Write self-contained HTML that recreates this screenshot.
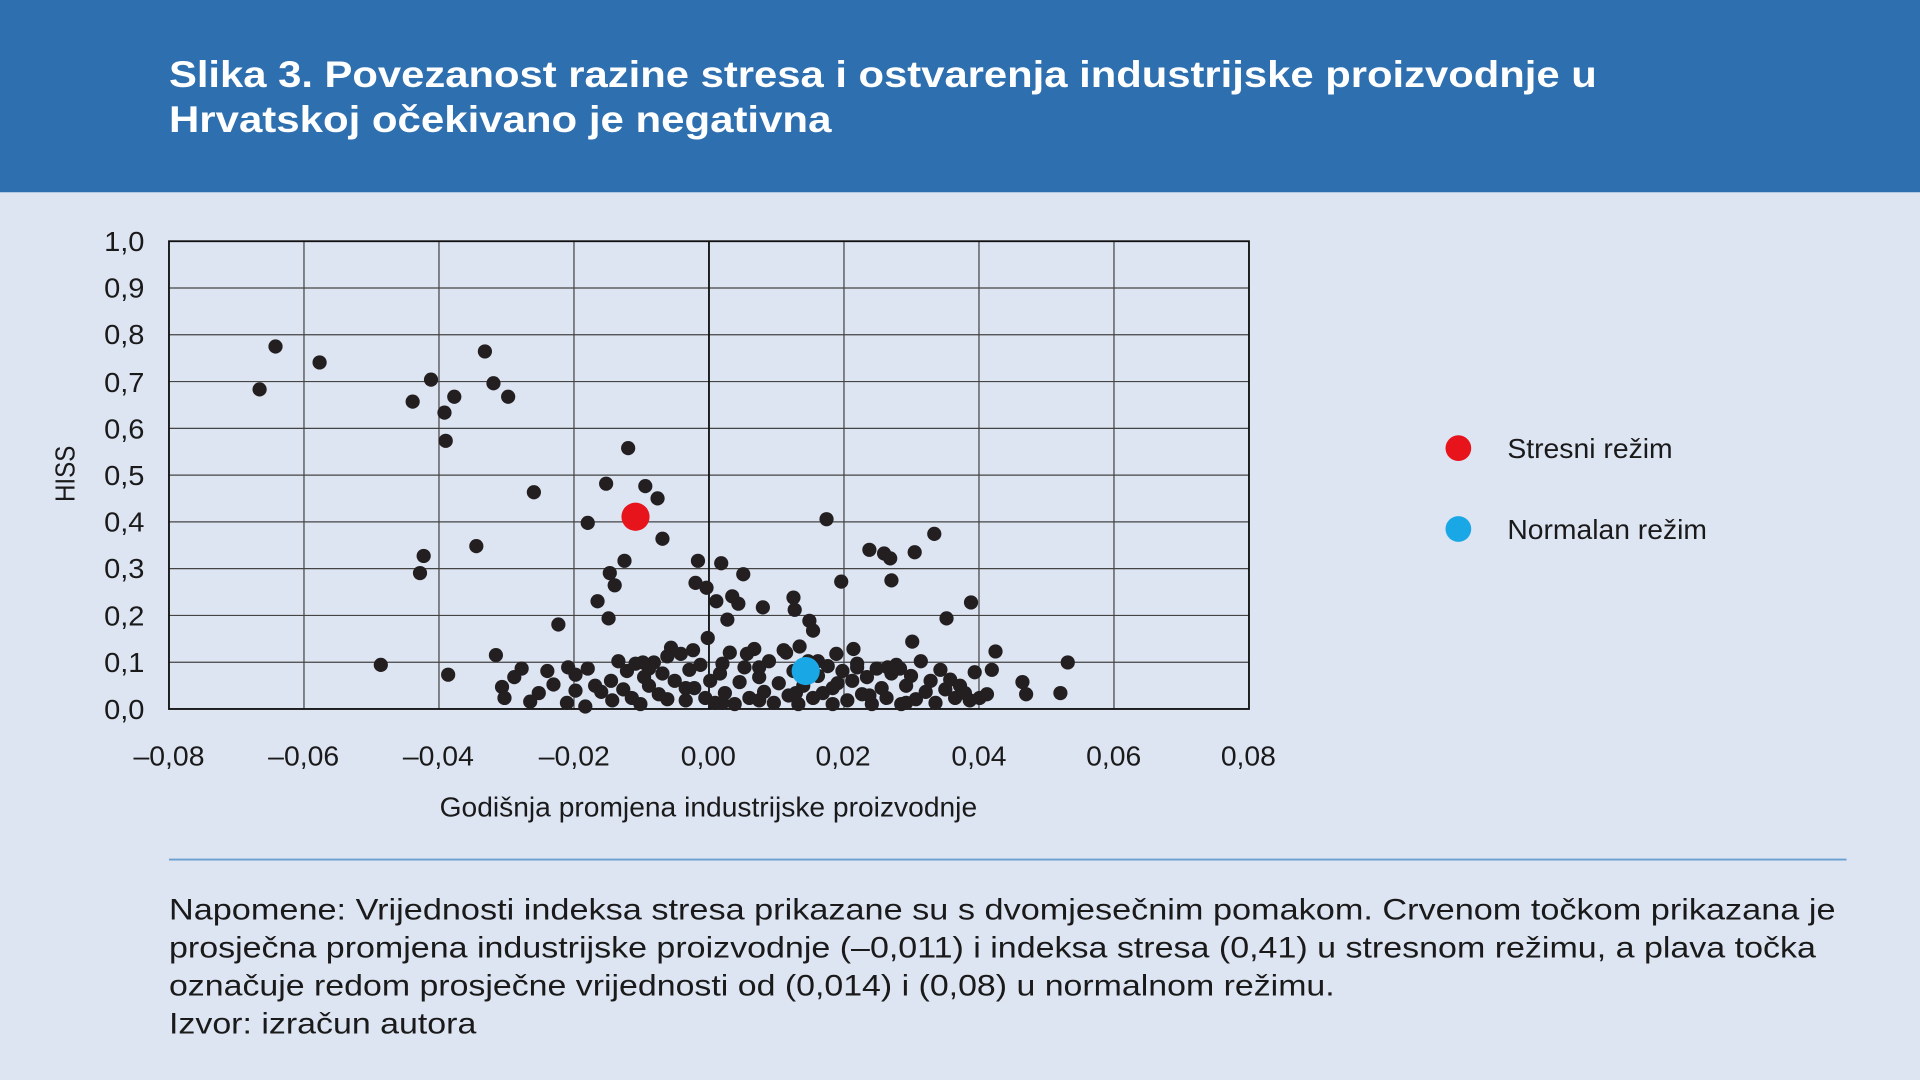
<!DOCTYPE html>
<html><head><meta charset="utf-8"><style>
html,body{margin:0;padding:0;background:#dde4f2;}
svg{display:block;}
.n{font-family:"Liberation Sans",sans-serif;font-size:23px;fill:#1a1a1a;}
.t{font-family:"Liberation Sans",sans-serif;font-weight:bold;font-size:30px;fill:#fff;}
.p{font-family:"Liberation Sans",sans-serif;font-size:24px;fill:#1a1a1a;}
</style></head><body>
<svg width="1920" height="1080" viewBox="0 0 1568 882" xmlns="http://www.w3.org/2000/svg">
<rect width="1568" height="882" fill="#dde4f2"/>
<rect width="1568" height="157" fill="#2e6fb0"/>
<text class="t" x="138" y="71" textLength="1166" lengthAdjust="spacingAndGlyphs">Slika 3. Povezanost razine stresa i ostvarenja industrijske proizvodnje u</text>
<text class="t" x="138" y="108" textLength="541" lengthAdjust="spacingAndGlyphs">Hrvatskoj očekivano je negativna</text>
<g stroke="#444" stroke-width="1">
<line x1="138" y1="235.2" x2="1020" y2="235.2"/><line x1="138" y1="273.4" x2="1020" y2="273.4"/>
<line x1="138" y1="311.6" x2="1020" y2="311.6"/><line x1="138" y1="349.8" x2="1020" y2="349.8"/>
<line x1="138" y1="388" x2="1020" y2="388"/><line x1="138" y1="426.2" x2="1020" y2="426.2"/>
<line x1="138" y1="464.4" x2="1020" y2="464.4"/><line x1="138" y1="502.6" x2="1020" y2="502.6"/>
<line x1="138" y1="540.8" x2="1020" y2="540.8"/>
<line x1="248.25" y1="197" x2="248.25" y2="579"/><line x1="358.5" y1="197" x2="358.5" y2="579"/>
<line x1="468.75" y1="197" x2="468.75" y2="579"/><line x1="689.25" y1="197" x2="689.25" y2="579"/>
<line x1="799.5" y1="197" x2="799.5" y2="579"/><line x1="909.75" y1="197" x2="909.75" y2="579"/>
</g>
<line x1="579" y1="197" x2="579" y2="579" stroke="#111" stroke-width="1.5"/>
<rect x="138" y="197" width="882" height="382" fill="none" stroke="#111" stroke-width="1.5"/>
<g class="n" text-anchor="end">
<text x="118" y="205" textLength="33" lengthAdjust="spacingAndGlyphs">1,0</text><text x="118" y="243" textLength="33" lengthAdjust="spacingAndGlyphs">0,9</text><text x="118" y="281" textLength="33" lengthAdjust="spacingAndGlyphs">0,8</text>
<text x="118" y="320" textLength="33" lengthAdjust="spacingAndGlyphs">0,7</text><text x="118" y="358" textLength="33" lengthAdjust="spacingAndGlyphs">0,6</text><text x="118" y="396" textLength="33" lengthAdjust="spacingAndGlyphs">0,5</text>
<text x="118" y="434" textLength="33" lengthAdjust="spacingAndGlyphs">0,4</text><text x="118" y="472" textLength="33" lengthAdjust="spacingAndGlyphs">0,3</text><text x="118" y="511" textLength="33" lengthAdjust="spacingAndGlyphs">0,2</text>
<text x="118" y="549" textLength="33" lengthAdjust="spacingAndGlyphs">0,1</text><text x="118" y="587" textLength="33" lengthAdjust="spacingAndGlyphs">0,0</text>
</g>
<g class="n">
<text x="109" y="625" textLength="58" lengthAdjust="spacingAndGlyphs">–0,08</text><text x="219" y="625" textLength="58" lengthAdjust="spacingAndGlyphs">–0,06</text><text x="329" y="625" textLength="58" lengthAdjust="spacingAndGlyphs">–0,04</text>
<text x="440" y="625" textLength="58" lengthAdjust="spacingAndGlyphs">–0,02</text><text x="556" y="625" textLength="45" lengthAdjust="spacingAndGlyphs">0,00</text><text x="666" y="625" textLength="45" lengthAdjust="spacingAndGlyphs">0,02</text>
<text x="777" y="625" textLength="45" lengthAdjust="spacingAndGlyphs">0,04</text><text x="887" y="625" textLength="45" lengthAdjust="spacingAndGlyphs">0,06</text><text x="997" y="625" textLength="45" lengthAdjust="spacingAndGlyphs">0,08</text>
<text x="359" y="667" textLength="439" lengthAdjust="spacingAndGlyphs">Godišnja promjena industrijske proizvodnje</text>
<text transform="translate(61,410) rotate(-90)" textLength="46" lengthAdjust="spacingAndGlyphs">HISS</text>
</g>
<g fill="#231f20">
<circle cx="225" cy="283" r="5.8"/><circle cx="212" cy="318" r="5.8"/><circle cx="261" cy="296" r="5.8"/><circle cx="396" cy="287" r="5.8"/><circle cx="352" cy="310" r="5.8"/><circle cx="337" cy="328" r="5.8"/><circle cx="403" cy="313" r="5.8"/><circle cx="371" cy="324" r="5.8"/><circle cx="415" cy="324" r="5.8"/><circle cx="363" cy="337" r="5.8"/><circle cx="364" cy="360" r="5.8"/><circle cx="513" cy="366" r="5.8"/><circle cx="495" cy="395" r="5.8"/><circle cx="527" cy="397" r="5.8"/><circle cx="537" cy="407" r="5.8"/><circle cx="436" cy="402" r="5.8"/><circle cx="480" cy="427" r="5.8"/><circle cx="675" cy="424" r="5.8"/><circle cx="541" cy="440" r="5.8"/><circle cx="389" cy="446" r="5.8"/><circle cx="346" cy="454" r="5.8"/><circle cx="343" cy="468" r="5.8"/><circle cx="570" cy="458" r="5.8"/><circle cx="589" cy="460" r="5.8"/><circle cx="510" cy="458" r="5.8"/><circle cx="607" cy="469" r="5.8"/><circle cx="498" cy="468" r="5.8"/><circle cx="502" cy="478" r="5.8"/><circle cx="710" cy="449" r="5.8"/><circle cx="722" cy="452" r="5.8"/><circle cx="727" cy="456" r="5.8"/><circle cx="747" cy="451" r="5.8"/><circle cx="763" cy="436" r="5.8"/><circle cx="728" cy="474" r="5.8"/><circle cx="687" cy="475" r="5.8"/><circle cx="568" cy="476" r="5.8"/><circle cx="577" cy="480" r="5.8"/><circle cx="598" cy="487" r="5.8"/><circle cx="585" cy="491" r="5.8"/><circle cx="603" cy="493" r="5.8"/><circle cx="623" cy="496" r="5.8"/><circle cx="648" cy="488" r="5.8"/><circle cx="649" cy="498" r="5.8"/><circle cx="793" cy="492" r="5.8"/><circle cx="488" cy="491" r="5.8"/><circle cx="497" cy="505" r="5.8"/><circle cx="456" cy="510" r="5.8"/><circle cx="661" cy="507" r="5.8"/><circle cx="664" cy="515" r="5.8"/><circle cx="773" cy="505" r="5.8"/><circle cx="594" cy="506" r="5.8"/><circle cx="578" cy="521" r="5.8"/><circle cx="566" cy="531" r="5.8"/><circle cx="745" cy="524" r="5.8"/><circle cx="653" cy="528" r="5.8"/><circle cx="683" cy="534" r="5.8"/><circle cx="697" cy="530" r="5.8"/><circle cx="813" cy="532" r="5.8"/><circle cx="405" cy="535" r="5.8"/><circle cx="311" cy="543" r="5.8"/><circle cx="366" cy="551" r="5.8"/><circle cx="872" cy="541" r="5.8"/><circle cx="835" cy="557" r="5.8"/><circle cx="838" cy="567" r="5.8"/><circle cx="866" cy="566" r="5.8"/>
<circle cx="410" cy="561" r="5.8"/><circle cx="412" cy="570" r="5.8"/><circle cx="420" cy="553" r="5.8"/><circle cx="426" cy="546" r="5.8"/><circle cx="433" cy="573" r="5.8"/><circle cx="440" cy="566" r="5.8"/><circle cx="447" cy="548" r="5.8"/><circle cx="452" cy="559" r="5.8"/><circle cx="464" cy="545" r="5.8"/><circle cx="463" cy="574" r="5.8"/><circle cx="470" cy="551" r="5.8"/><circle cx="478" cy="577" r="5.8"/><circle cx="480" cy="546" r="5.8"/><circle cx="486" cy="560" r="5.8"/><circle cx="491" cy="565" r="5.8"/><circle cx="499" cy="556" r="5.8"/><circle cx="505" cy="540" r="5.8"/><circle cx="509" cy="563" r="5.8"/><circle cx="512" cy="548" r="5.8"/><circle cx="516" cy="570" r="5.8"/><circle cx="519" cy="542" r="5.8"/><circle cx="523" cy="575" r="5.8"/><circle cx="526" cy="553" r="5.8"/><circle cx="530" cy="560" r="5.8"/><circle cx="534" cy="541" r="5.8"/><circle cx="538" cy="567" r="5.8"/><circle cx="541" cy="550" r="5.8"/><circle cx="545" cy="571" r="5.8"/><circle cx="548" cy="529" r="5.8"/><circle cx="551" cy="556" r="5.8"/><circle cx="556" cy="534" r="5.8"/><circle cx="560" cy="572" r="5.8"/><circle cx="563" cy="547" r="5.8"/><circle cx="567" cy="562" r="5.8"/><circle cx="572" cy="543" r="5.8"/><circle cx="576" cy="570" r="5.8"/><circle cx="580" cy="556" r="5.8"/><circle cx="584" cy="574" r="5.8"/><circle cx="588" cy="550" r="5.8"/><circle cx="592" cy="566" r="5.8"/><circle cx="596" cy="533" r="5.8"/><circle cx="600" cy="575" r="5.8"/><circle cx="604" cy="557" r="5.8"/><circle cx="608" cy="545" r="5.8"/><circle cx="612" cy="570" r="5.8"/><circle cx="616" cy="530" r="5.8"/><circle cx="620" cy="553" r="5.8"/><circle cx="624" cy="565" r="5.8"/><circle cx="628" cy="540" r="5.8"/><circle cx="632" cy="574" r="5.8"/><circle cx="636" cy="558" r="5.8"/><circle cx="640" cy="531" r="5.8"/><circle cx="644" cy="568" r="5.8"/><circle cx="648" cy="548" r="5.8"/><circle cx="652" cy="575" r="5.8"/><circle cx="656" cy="560" r="5.8"/><circle cx="660" cy="540" r="5.8"/><circle cx="664" cy="570" r="5.8"/><circle cx="668" cy="552" r="5.8"/><circle cx="672" cy="566" r="5.8"/><circle cx="676" cy="544" r="5.8"/><circle cx="680" cy="575" r="5.8"/><circle cx="684" cy="558" r="5.8"/><circle cx="688" cy="548" r="5.8"/><circle cx="692" cy="572" r="5.8"/><circle cx="696" cy="556" r="5.8"/><circle cx="700" cy="542" r="5.8"/><circle cx="704" cy="567" r="5.8"/><circle cx="708" cy="553" r="5.8"/><circle cx="712" cy="575" r="5.8"/><circle cx="716" cy="546" r="5.8"/><circle cx="720" cy="562" r="5.8"/><circle cx="724" cy="570" r="5.8"/><circle cx="728" cy="550" r="5.8"/><circle cx="732" cy="543" r="5.8"/><circle cx="736" cy="575" r="5.8"/><circle cx="740" cy="560" r="5.8"/><circle cx="744" cy="552" r="5.8"/><circle cx="748" cy="571" r="5.8"/><circle cx="752" cy="540" r="5.8"/><circle cx="756" cy="565" r="5.8"/><circle cx="760" cy="556" r="5.8"/><circle cx="764" cy="574" r="5.8"/><circle cx="768" cy="547" r="5.8"/><circle cx="772" cy="563" r="5.8"/><circle cx="776" cy="555" r="5.8"/><circle cx="780" cy="570" r="5.8"/><circle cx="784" cy="560" r="5.8"/><circle cx="788" cy="566" r="5.8"/><circle cx="792" cy="572" r="5.8"/><circle cx="796" cy="549" r="5.8"/><circle cx="800" cy="570" r="5.8"/><circle cx="806" cy="567" r="5.8"/><circle cx="810" cy="547" r="5.8"/><circle cx="470" cy="564" r="5.8"/><circle cx="500" cy="572" r="5.8"/><circle cx="530" cy="546" r="5.8"/><circle cx="560" cy="562" r="5.8"/><circle cx="590" cy="574" r="5.8"/><circle cx="620" cy="572" r="5.8"/><circle cx="650" cy="566" r="5.8"/><circle cx="680" cy="562" r="5.8"/><circle cx="710" cy="568" r="5.8"/><circle cx="740" cy="574" r="5.8"/><circle cx="620" cy="545" r="5.8"/><circle cx="642" cy="533" r="5.8"/><circle cx="668" cy="540" r="5.8"/><circle cx="700" cy="545" r="5.8"/><circle cx="725" cy="545" r="5.8"/><circle cx="735" cy="546" r="5.8"/><circle cx="525" cy="541" r="5.8"/><circle cx="545" cy="536" r="5.8"/><circle cx="590" cy="542" r="5.8"/><circle cx="610" cy="534" r="5.8"/>
</g>
<circle cx="519" cy="422" r="11.5" fill="#e8141c"/>
<circle cx="658" cy="548" r="11.5" fill="#1aa7e6"/>
<circle cx="1191" cy="366" r="10.5" fill="#e8141c"/>
<circle cx="1191" cy="432" r="10.5" fill="#1aa7e6"/>
<text class="n" x="1231" y="374" textLength="135" lengthAdjust="spacingAndGlyphs">Stresni režim</text>
<text class="n" x="1231" y="440" textLength="163" lengthAdjust="spacingAndGlyphs">Normalan režim</text>
<line x1="138" y1="702" x2="1508" y2="702" stroke="#6a9fd0" stroke-width="1.5"/>
<text class="p" x="138" y="751" textLength="1361" lengthAdjust="spacingAndGlyphs">Napomene: Vrijednosti indeksa stresa prikazane su s dvomjesečnim pomakom. Crvenom točkom prikazana je</text>
<text class="p" x="138" y="782" textLength="1345" lengthAdjust="spacingAndGlyphs">prosječna promjena industrijske proizvodnje (–0,011) i indeksa stresa (0,41) u stresnom režimu, a plava točka</text>
<text class="p" x="138" y="813" textLength="952" lengthAdjust="spacingAndGlyphs">označuje redom prosječne vrijednosti od (0,014) i (0,08) u normalnom režimu.</text>
<text class="p" x="138" y="844" textLength="251" lengthAdjust="spacingAndGlyphs">Izvor: izračun autora</text>
</svg>
</body></html>
